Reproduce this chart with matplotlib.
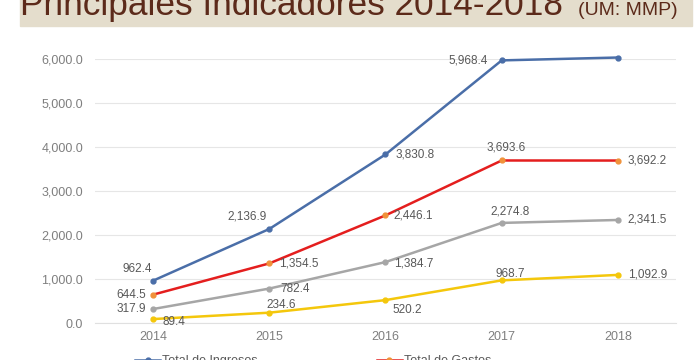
import matplotlib.pyplot as plt
from matplotlib.patches import Rectangle
from matplotlib.lines import Line2D

years = [2014, 2015, 2016, 2017, 2018]
ingresos = [962.4, 2136.9, 3830.8, 5968.4, 6033.7]
gastos = [644.5, 1354.5, 2446.1, 3693.6, 3692.2]
serie_gris = [317.9, 782.4, 1384.7, 2274.8, 2341.5]
serie_amarilla = [89.4, 234.6, 520.2, 968.7, 1092.9]

# label placement per point: (dx, dy in points, ha, va)
lab_ing = [(-1, 4, "right", "bottom"), (-2, 5, "right", "bottom"), (7, 0, "left", "center"),
           (-10, 0, "right", "center"), (6, 0, "left", "center")]
lab_gas = [(-5, 0, "right", "center"), (7, 0, "left", "center"), (6, 0, "left", "center"),
           (3, 5, "center", "bottom"), (7, 0, "left", "center")]
lab_gris = [(-5, 0, "right", "center"), (8, 0, "left", "center"), (6, -1, "left", "center"),
            (6, 4, "center", "bottom"), (7, 0, "left", "center")]
lab_ama = [(7, -2, "left", "center"), (-2, 1, "left", "bottom"), (5, -3, "left", "top"),
           (6, 0, "center", "bottom"), (7, 0, "left", "center")]

plt.rcParams['font.family'] = ['Liberation Sans', 'DejaVu Sans']

fig = plt.figure(figsize=(7, 3.6), dpi=100)
ax = fig.add_axes([95 / 700, 37 / 360, 581 / 700, 264 / 360])

series = [
    (ingresos, "#4a6ea8", "#4a6ea8", lab_ing),
    (gastos, "#e41e1e", "#f0923a", lab_gas),
    (serie_gris, "#a6a6a6", "#a6a6a6", lab_gris),
    (serie_amarilla, "#f4c70c", "#f4c70c", lab_ama),
]
for vals, col, mcol, labs in series:
    ax.plot(years, vals, color=col, lw=1.8, marker="o", ms=3.5,
            mfc=mcol, mec=mcol, clip_on=False, zorder=3)
    for x, v, (dx, dy, ha, va) in zip(years, vals, labs):
        ax.annotate(f"{v:,.1f}", (x, v), xytext=(dx, dy), textcoords="offset points",
                    ha=ha, va=va, fontsize=8.5, color="#595959", zorder=4)

ax.set_xlim(2013.5, 2018.5)
ax.set_ylim(0, 6000)
ax.set_xticks(years)
ax.set_yticks(range(0, 6001, 1000))
ax.set_yticklabels([f"{t:,.1f}" for t in range(0, 6001, 1000)])
ax.tick_params(length=0, labelsize=9, colors="#7f7f7f")
ax.tick_params(axis="y", pad=8.5)
ax.tick_params(axis="x", pad=6)
ax.grid(axis="y", color="#e6e6e6", lw=0.8)
ax.set_axisbelow(True)
for s in ax.spines.values():
    s.set_visible(False)
ax.spines["bottom"].set_visible(True)
ax.spines["bottom"].set_color("#e0e0e0")

# title banner (cropped at top)
fig.patches.append(Rectangle((20 / 700, 1 - 26 / 360), 672 / 700, 30 / 360,
                             transform=fig.transFigure, color="#e4ddcc", zorder=0))
fig.text(20 / 700, 1 - 15 / 360, "Principales Indicadores 2014-2018", fontsize=25.4,
         color="#5c2a1a", va="baseline", ha="left")
fig.text(678 / 700, 1 - 15 / 360, "(UM: MMP)", fontsize=14,
         color="#5c2a1a", va="baseline", ha="right")

# legend (cropped at bottom)
handles = [Line2D([], [], color="#4a6ea8", lw=1.8, marker="o", ms=3.5),
           Line2D([], [], color="#e41e1e", lw=1.8, marker="o", ms=3.5, mfc="#f0923a", mec="#f0923a")]
fig.legend(handles, ["Total de Ingresos", "Total de Gastos"], ncol=2, frameon=False,
           loc="center left", bbox_to_anchor=(130 / 700, 1 - 361 / 360), fontsize=9,
           labelcolor="#595959", columnspacing=9.5, handlelength=2, handletextpad=0.2,
           borderaxespad=0)

fig.savefig("out.png", dpi=100)
